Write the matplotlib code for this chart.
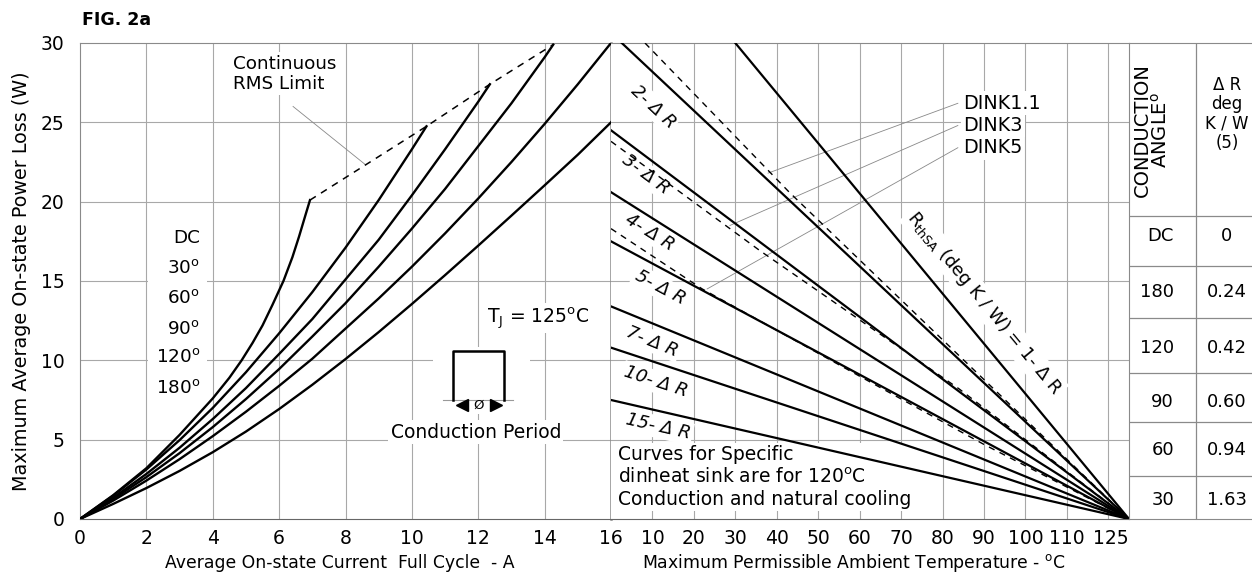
import math
import numpy as np
import matplotlib
matplotlib.use("Agg")
import matplotlib.pyplot as plt
import matplotlib.patches as patches

plt.rcParams['font.family'] = ['DejaVu Sans']
plt.rcParams['mathtext.default'] = 'regular'

# ---- left panel: power loss vs average current (one curve per conduction angle)
curve1_i = [0, 1, 2, 3, 4, 4.5, 4.87, 5.2, 5.5, 5.8, 6.13, 6.4, 6.6, 6.8, 6.93]
curve1_p = [0, 1.5, 3.2, 5.3, 7.6, 8.9, 10.0, 11.1, 12.2, 13.5, 15.0, 16.5, 17.8, 19.2, 20.1]
curve2_i = [0, 1, 2, 3, 4, 5, 6, 7, 8, 9, 10, 10.44]
curve2_p = [0, 1.47, 3.12, 4.97, 7.0, 9.25, 11.7, 14.3, 17.1, 20.1, 23.3, 24.75]
curve3_i = [0, 1, 2, 3, 4, 5, 6, 7, 8, 9, 10, 11, 12, 12.35]
curve3_p = [0, 1.34, 2.84, 4.49, 6.3, 8.25, 10.4, 12.6, 15.1, 17.6, 20.4, 23.3, 26.3, 27.4]
curve4_i = [0, 1, 2, 3, 4, 5, 6, 7, 8, 9, 10, 11, 12, 13, 14, 14.26]
curve4_p = [0, 1.26, 2.64, 4.15, 5.79, 7.56, 9.45, 11.5, 13.6, 15.9, 18.3, 20.8, 23.5, 26.2, 29.1, 29.9]
curve5_i = [0, 1, 2, 3, 4, 5, 6, 7, 8, 9, 10, 11, 12, 13, 14, 15, 16]
curve5_p = [0, 1.16, 2.42, 3.77, 5.22, 6.76, 8.39, 10.1, 12.0, 13.9, 15.9, 18.0, 20.2, 22.5, 24.9, 27.4, 30.0]
curve6_i = [0, 1, 2, 3, 4, 5, 6, 7, 8, 9, 10, 11, 12, 13, 14, 15, 16]
curve6_p = [0, 0.95, 1.95, 3.03, 4.21, 5.51, 6.93, 8.46, 10.08, 11.78, 13.55, 15.37, 17.23, 19.12, 21.03, 22.96, 25.0]

rms_i = [6.93, 10.44, 12.35, 14.26]
rms_p = [20.1, 24.75, 27.4, 29.9]

angle_labels = ['DC', '30$^o$', '60$^o$', '90$^o$', '120$^o$', '180$^o$']

# ---- right panel: ambient temperature derating lines
tj = 125
rth_names = ['1', '2', '3', '4', '5', '7', '10', '15']
rth_t0 = [30.0, 2.6, 0, 0, 0, 0, 0, 0]
rth_p0 = [30, 30, 24.5, 20.6, 17.5, 13.4, 10.8, 7.5]

dink11_t = [8.2, 43, 80, 125]
dink11_p = [30, 20.6, 11.3, 0]
dink3_t = [0, 36, 84, 125]
dink3_p = [23.8, 16.9, 8.2, 0]
dink5_t = [0, 22, 60, 90, 125]
dink5_p = [18.3, 14.5, 9.0, 4.7, 0]
dink_names = ['DINK1.1', 'DINK3', 'DINK5']

# ---- table
cond_angles = ['DC', '180', '120', '90', '60', '30']
delta_r = ['0', '0.24', '0.42', '0.60', '0.94', '1.63']

W, H = 1252, 576
GRID = '#a8a8a8'
SPINE = '#8a8a8a'
white_box = dict(boxstyle='square,pad=0.12', fc='white', ec='none')


def px_box(x0, y0, x1, y1):
    return [x0 / W, 1 - y1 / H, (x1 - x0) / W, (y1 - y0) / H]


fig = plt.figure(figsize=(W / 100, H / 100), dpi=100)
axL = fig.add_axes(px_box(80, 43, 611, 519))
axR = fig.add_axes(px_box(611, 43, 1129, 519))
axT = fig.add_axes(px_box(1129, 43, 1252, 519))

''' LEFT PANEL '''
axL.set_xlim(0, 16)
axL.set_ylim(0, 30)
axL.set_xticks(range(0, 17, 2))
axL.set_yticks(range(0, 31, 5))
axL.tick_params(length=0, labelsize=13.5)
axL.tick_params(axis='x', pad=7)
axL.tick_params(axis='y', pad=11)
for x in range(2, 16, 2):
    axL.axvline(x, color=GRID, lw=0.8, zorder=0.5)
for y in range(5, 30, 5):
    axL.axhline(y, color=GRID, lw=0.8, zorder=0.5)
for s in ['left', 'top']:
    axL.spines[s].set_color(SPINE)
axL.spines['bottom'].set_color('#666666')
axL.spines['right'].set_color(SPINE)
axL.spines['right'].set_linewidth(1.8)

curves = [(curve1_i, curve1_p), (curve2_i, curve2_p), (curve3_i, curve3_p),
          (curve4_i, curve4_p), (curve5_i, curve5_p), (curve6_i, curve6_p)]
for ci, cp in curves:
    axL.plot(ci, cp, color='black', lw=1.7, zorder=3, solid_joinstyle='round')
axL.plot(rms_i, rms_p, color='black', lw=1.1, dashes=(4.5, 4), zorder=3)

axL.text(4.61, 28.07, 'Continuous\nRMS Limit', fontsize=13.2, ha='left', va='center',
         linespacing=1.15, bbox=white_box, zorder=2)
axL.plot([6.42, 8.59], [26.0, 22.35], color='#888888', lw=0.6, zorder=2.5)

# white panel behind the conduction angle list
axL.add_patch(patches.Rectangle((2.06, 7.3), 1.76, 11.4, fc='white', ec='none', zorder=1))
label_p = [17.7, 15.8, 13.9, 12.0, 10.2, 8.25]
for lab, yp in zip(angle_labels, label_p):
    axL.text(3.62, yp, lab, fontsize=13.2, ha='right', va='center', zorder=2)

# conduction period symbol
axL.add_patch(patches.Rectangle((10.64, 6.6), 2.92, 4.25, fc='white', ec='none', zorder=1))
axL.text(12.25, 12.67, 'T$_J$ = 125$^o$C', fontsize=13.5, ha='left', va='center',
         bbox=white_box, zorder=2)
axL.plot([10.93, 13.04], [7.5, 7.5], color='#999999', lw=0.8, zorder=2)
axL.plot([11.23, 11.23, 12.77, 12.77], [7.5, 10.6, 10.6, 7.5], color='black', lw=1.8, zorder=3)
axL.plot(11.5, 7.18, marker='<', ms=9, color='black', zorder=3)
axL.plot(12.54, 7.18, marker='>', ms=9, color='black', zorder=3)
axL.text(12.02, 7.18, 'Ø', fontsize=9.5, ha='center', va='center', zorder=3)
axL.text(11.93, 5.48, 'Conduction Period', fontsize=13.5, ha='center', va='center',
         bbox=white_box, zorder=2)

''' RIGHT PANEL '''
axR.set_xlim(0, 125)
axR.set_ylim(0, 30)
axR.set_xticks(list(range(10, 111, 10)) + [125])
axR.set_xticklabels([str(t) for t in range(10, 111, 10)] + ['125'])
axR.set_yticks([])
axR.tick_params(length=0, labelsize=13.5)
axR.tick_params(axis='x', pad=7)
axR.get_xticklabels()[-1].set_horizontalalignment('right')
for x in range(10, 121, 10):
    axR.axvline(x, color=GRID, lw=0.8, zorder=0.5)
for y in range(5, 30, 5):
    axR.axhline(y, color=GRID, lw=0.8, zorder=0.5)
axR.spines['left'].set_visible(False)
axR.spines['right'].set_visible(False)
axR.spines['top'].set_color(SPINE)
axR.spines['bottom'].set_color('#666666')

for t0, p0 in zip(rth_t0, rth_p0):
    axR.plot([t0, tj], [p0, 0], color='black', lw=1.6, zorder=3)
for dt, dp in [(dink11_t, dink11_p), (dink3_t, dink3_p), (dink5_t, dink5_p)]:
    axR.plot(dt, dp, color='black', lw=1.0, dashes=(4.5, 4), zorder=3)


def line_angle(ax, t0, p0, t1, p1):
    a = ax.transData.transform((t0, p0))
    b = ax.transData.transform((t1, p1))
    return math.degrees(math.atan2(b[1] - a[1], b[0] - a[0]))


rth_label_t = [90.0, 10.1, 8.4, 9.4, 11.8, 10.0, 10.8, 11.4]
rth_label_p = [13.6, 26.0, 21.7, 18.1, 14.6, 11.2, 8.65, 5.8]
for k, name in enumerate(rth_names):
    ang = line_angle(axR, rth_t0[k], rth_p0[k], tj, 0)
    if name == '1':
        txt = 'R$_{thSA}$ (deg K / W) = 1- Δ R'
        axR.text(rth_label_t[k], rth_label_p[k], txt, fontsize=13, rotation=ang,
                 rotation_mode='anchor', ha='center', va='center', bbox=white_box, zorder=2)
    else:
        axR.text(rth_label_t[k], rth_label_p[k], name + '- Δ R', fontsize=13, style='italic',
                 rotation=ang, rotation_mode='anchor', ha='center', va='center',
                 bbox=white_box, zorder=2)

dink_text_p = [26.2, 24.8, 23.4]
dink_end = [(37.9, 21.8), (28.7, 18.5), (23.2, 14.5)]
for name, yp, (et, ep) in zip(dink_names, dink_text_p, dink_end):
    axR.text(84.9, yp, name, fontsize=13.8, ha='left', va='center', bbox=white_box, zorder=2)
    axR.plot([83.7, et], [yp, ep], color='#888888', lw=0.6, zorder=2.5)

axR.text(1.7, 2.65, 'Curves for Specific\ndinheat sink are for 120$^o$C\nConduction and natural cooling',
         fontsize=13.5, ha='left', va='center', linespacing=1.2, bbox=white_box, zorder=2)

''' TABLE '''
axT.set_xlim(1129, 1252)
axT.set_ylim(519, 43)
axT.set_xticks([])
axT.set_yticks([])
axT.spines['right'].set_visible(False)
for s in ['left', 'top', 'bottom']:
    axT.spines[s].set_color(SPINE)
axT.plot([1196, 1196], [43, 519], color=SPINE, lw=0.9)
row_lines = [216, 266, 318, 373, 422, 476]
for y in row_lines:
    axT.plot([1129, 1252], [y, y], color=SPINE, lw=0.9)
axT.text(1152, 130, 'CONDUCTION\nANGLE$^o$', rotation=90, fontsize=14, ha='center',
         va='center', multialignment='center', linespacing=0.95)
axT.text(1227, 114, 'Δ R\ndeg\nK / W\n(5)', fontsize=12, ha='center', va='center',
         linespacing=1.1)
row_text_y = [236, 292, 348, 402, 450, 500]
for ca, dr, y in zip(cond_angles, delta_r, row_text_y):
    axT.text(1174, y, ca, fontsize=13, ha='right', va='center')
    axT.text(1227, y, dr, fontsize=13, ha='center', va='center')

''' FIGURE TEXT '''
fig.text(82 / W, 1 - 20 / H, 'FIG. 2a', fontsize=12.5, weight='bold', ha='left', va='center')
fig.text(22 / W, 1 - 281 / H, 'Maximum Average On-state Power Loss (W)', rotation=90,
         fontsize=13.8, ha='center', va='center')
fig.text(340 / W, 1 - 563 / H, 'Average On-state Current  Full Cycle  - A', fontsize=12.4,
         ha='center', va='center')
fig.text(854 / W, 1 - 563 / H, 'Maximum Permissible Ambient Temperature - $^o$C', fontsize=12.4,
         ha='center', va='center')

fig.savefig('out.png', dpi=100)
